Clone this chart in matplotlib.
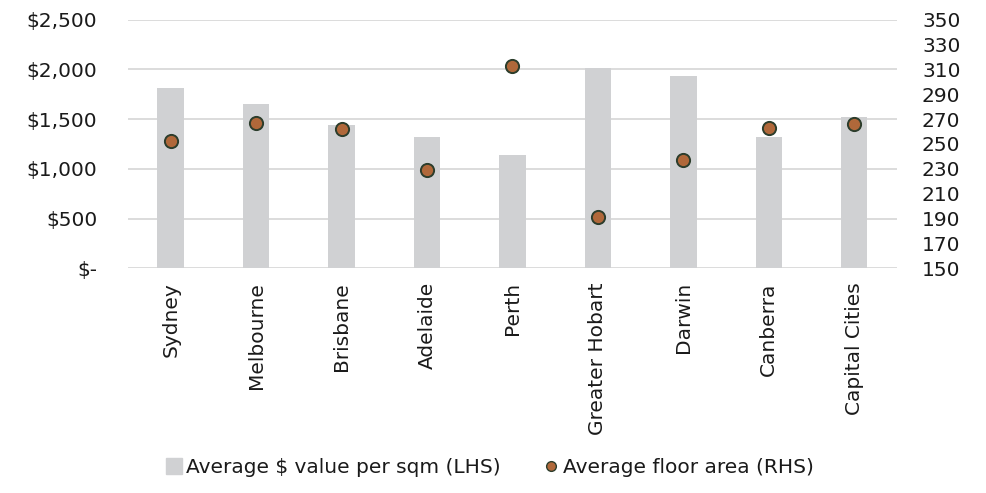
import matplotlib
matplotlib.use("Agg")
import matplotlib.pyplot as plt
from matplotlib.lines import Line2D
from matplotlib.ticker import FuncFormatter

plt.rcParams['font.family'] = ['DejaVu Sans']

cities = ["Sydney", "Melbourne", "Brisbane", "Adelaide", "Perth",
          "Greater Hobart", "Darwin", "Canberra", "Capital Cities"]
value_per_sqm = [1810, 1655, 1440, 1323, 1140, 2015, 1933, 1320, 1520]
floor_area = [252, 267, 262, 229, 313, 191, 237, 263, 266]

left_ticks = [0, 500, 1000, 1500, 2000, 2500]
right_ticks = list(range(150, 351, 20))

text_color = "#1a1a1a"
bar_color = "#d0d1d3"
dot_color = "#b0683a"
dot_edge = "#2c3d2c"
grid_color = "#d9d9d9"
fs = 14.5

fig = plt.figure(figsize=(9.86, 4.93), dpi=100)
ax = fig.add_axes([0.1298, 0.4558, 0.7799, 0.5046])
ax2 = ax.twinx()

x = list(range(len(cities)))
ax.bar(x, value_per_sqm, width=0.31, color=bar_color, zorder=2)
ax.set_ylim(0, 2500)
ax.set_xlim(-0.5, len(cities) - 0.5)
ax.set_yticks(left_ticks)
ax.yaxis.set_major_formatter(FuncFormatter(
    lambda v, p: "$-" if v == 0 else f"${v:,.0f}"))
ax.grid(axis="y", color=grid_color, linewidth=1.3, zorder=0)
ax.set_axisbelow(True)

ax2.plot(x, floor_area, linestyle="none", marker="o", markersize=9.5,
         markerfacecolor=dot_color, markeredgecolor=dot_edge,
         markeredgewidth=1.4, zorder=3)
ax2.set_ylim(150, 350)
ax2.set_yticks(right_ticks)

for a in (ax, ax2):
    for s in a.spines.values():
        s.set_visible(False)
    a.tick_params(length=0, labelsize=fs, colors=text_color)

ax.tick_params(axis="y", pad=22)
ax2.tick_params(axis="y", pad=18)
ax.set_xticks(x)
ax.set_xticklabels(cities, rotation=90, fontsize=fs, color=text_color)
ax.tick_params(axis="x", pad=10)

handles = [
    Line2D([], [], linestyle="none", marker="s", markersize=11,
           markerfacecolor=bar_color, markeredgecolor=bar_color),
    Line2D([], [], linestyle="none", marker="o", markersize=7,
           markerfacecolor=dot_color, markeredgecolor=dot_edge,
           markeredgewidth=1.0),
]
fig.legend(handles, ["Average $ value per sqm (LHS)", "Average floor area (RHS)"],
           loc="center", bbox_to_anchor=(0.496, 0.051), ncol=2, frameon=False,
           fontsize=fs, handletextpad=0.1, columnspacing=2.0,
           handlelength=1.0, labelcolor=text_color)

fig.savefig("out.png", dpi=100)
